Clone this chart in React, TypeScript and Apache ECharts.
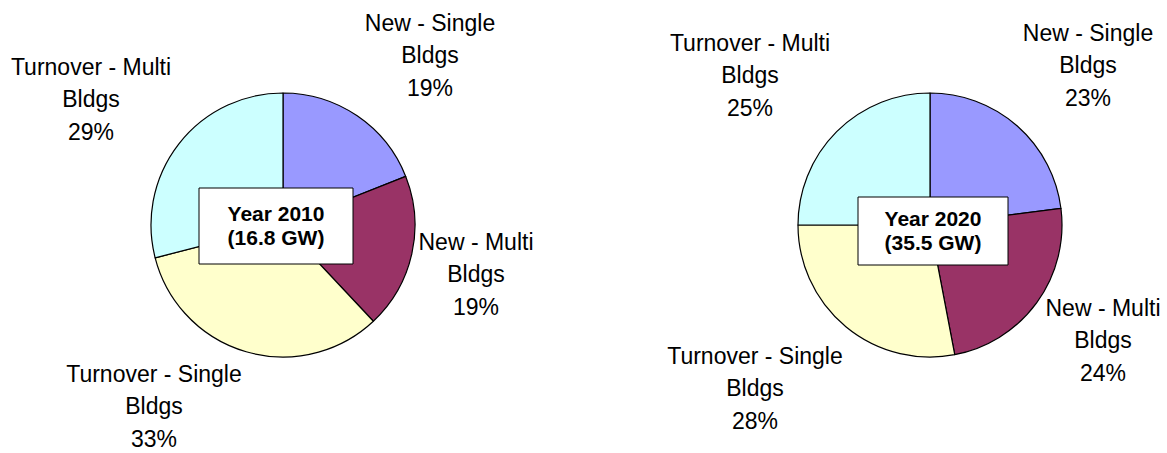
import React, { useEffect, useRef } from "react";
import * as echarts from "echarts";

const categories = [
  "New - Single Bldgs",
  "New - Multi Bldgs",
  "Turnover - Single Bldgs",
  "Turnover - Multi Bldgs",
];
const values2010 = [19, 19, 33, 29];
const values2020 = [23, 24, 28, 25];
const titles = ["Year 2010\n(16.8 GW)", "Year 2020\n(35.5 GW)"];
const colors = ["#9999FF", "#993366", "#FFFFCC", "#CCFFFF"];

const FONT = "Arial, 'Liberation Sans', sans-serif";

// label anchor positions (center x, middle-line y) per pie, per category
const labelPos = [
  [
    [430, 55],
    [476, 274],
    [154, 406],
    [91, 99],
  ],
  [
    [1088, 65],
    [1103, 340],
    [755, 388],
    [750, 75],
  ],
];

const pieCenters = [
  [283, 225],
  [930, 225],
];
const pieRadius = 132;

const boxes = [
  { x: 199, y: 188, w: 154, h: 76 },
  { x: 858, y: 197, w: 150, h: 68 },
];

function makeSeries(values: number[], idx: number) {
  return {
    type: "pie",
    center: pieCenters[idx],
    radius: pieRadius,
    startAngle: 90,
    clockwise: true,
    avoidLabelOverlap: false,
    silent: true,
    itemStyle: { borderColor: "#000", borderWidth: 1.2 },
    label: {
      show: true,
      position: "outside",
      color: "#000",
      fontFamily: FONT,
      fontSize: 23,
      lineHeight: 32.5,
      align: "center",
      formatter: (p: any) =>
        `${p.name.replace(" Bldgs", "\nBldgs")}\n${p.value}%`,
    },
    labelLine: { show: false },
    labelLayout: (p: any) => {
      const pos = labelPos[idx][p.dataIndex];
      return { x: pos[0], y: pos[1], align: "center", verticalAlign: "middle" };
    },
    data: categories.map((name, i) => ({
      name,
      value: values[i],
      itemStyle: { color: colors[i] },
    })),
  };
}

export default function App() {
  const ref = useRef<HTMLDivElement>(null);
  useEffect(() => {
    document.body.style.margin = "0";
    if (!ref.current) return;
    const chart = echarts.init(ref.current, null, { renderer: "svg" });
    chart.setOption({
      animation: false,
      backgroundColor: "#fff",
      series: [makeSeries(values2010, 0), makeSeries(values2020, 1)],
      graphic: boxes.flatMap((b, i) => [
        {
          type: "rect",
          z: 100,
          shape: { x: b.x, y: b.y, width: b.w, height: b.h },
          style: { fill: "#fff", stroke: "#000", lineWidth: 1 },
        },
        {
          type: "text",
          z: 101,
          x: b.x + b.w / 2,
          y: b.y + b.h / 2 - 1,
          style: {
            text: titles[i],
            fill: "#000",
            font: `bold 21px ${FONT}`,
            lineHeight: 24,
            align: "center",
            verticalAlign: "middle",
          },
        },
      ]),
    });
    return () => chart.dispose();
  }, []);
  return <div ref={ref} style={{ width: 1167, height: 453 }} />;
}
